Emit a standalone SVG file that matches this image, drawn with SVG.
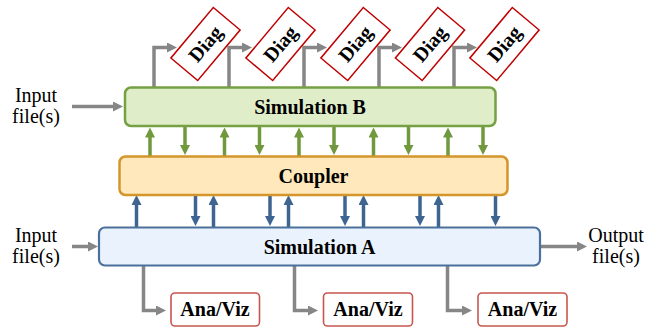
<svg xmlns="http://www.w3.org/2000/svg" width="667" height="328" viewBox="0 0 667 328">
<defs>
<marker id="ag" viewBox="0 0 10 10" refX="2" refY="5" markerWidth="10" markerHeight="10" markerUnits="userSpaceOnUse" orient="auto"><path d="M0,0 L10,5 L0,10 z" fill="#868686"/></marker>
<marker id="agr" viewBox="0 0 10 10" refX="2" refY="5" markerWidth="10" markerHeight="10" markerUnits="userSpaceOnUse" orient="auto"><path d="M0,0 L10,5 L0,10 z" fill="#70983c"/></marker>
<marker id="ab" viewBox="0 0 10 10" refX="2" refY="5" markerWidth="10" markerHeight="10" markerUnits="userSpaceOnUse" orient="auto"><path d="M0,0 L10,5 L0,10 z" fill="#3e6592"/></marker>
</defs>
<style>
text{font-family:'Liberation Serif','Times New Roman',serif;fill:#000;text-anchor:middle}
.lbl{font-size:20px}
.b{font-size:20px;font-weight:bold}
.g{fill:none;stroke:#868686;stroke-width:3.5;marker-end:url(#ag)}
.gr{fill:none;stroke:#70983c;stroke-width:3.5;marker-end:url(#agr)}
.bl{fill:none;stroke:#3e6592;stroke-width:3.5;marker-end:url(#ab)}
.diag{fill:#fff;stroke:#c00000;stroke-width:1.5}
.av{fill:#fff;stroke:#c8554f;stroke-width:1.6}
</style>
<g id="connectors">
<path class="g" d="M72,106.5 H115"/>
<path class="g" d="M72,246.5 H90"/>
<path class="g" d="M541,246.5 H579"/>
<path class="g" d="M154,87 V47.5 H169"/>
<path class="g" d="M229,87 V47.5 H244"/>
<path class="g" d="M304,87 V47.5 H319"/>
<path class="g" d="M379,87 V47.5 H394"/>
<path class="g" d="M454,87 V47.5 H469"/>
<path class="g" d="M143.5,266 V310.5 H158"/>
<path class="g" d="M294.5,266 V310.5 H310"/>
<path class="g" d="M447.5,266 V310.5 H464"/>
<path class="gr" d="M150,156 V135.5"/>
<path class="gr" d="M224.5,156 V135.5"/>
<path class="gr" d="M299,156 V135.5"/>
<path class="gr" d="M373.5,156 V135.5"/>
<path class="gr" d="M448,156 V135.5"/>
<path class="gr" d="M185,127 V147"/>
<path class="gr" d="M259.5,127 V147"/>
<path class="gr" d="M334,127 V147"/>
<path class="gr" d="M408.5,127 V147"/>
<path class="gr" d="M483,127 V147"/>
<path class="bl" d="M136.5,227 V203"/>
<path class="bl" d="M213.5,227 V203"/>
<path class="bl" d="M288.5,227 V203"/>
<path class="bl" d="M363.5,227 V203"/>
<path class="bl" d="M438.5,227 V203"/>
<path class="bl" d="M195.5,196 V218"/>
<path class="bl" d="M270,196 V218"/>
<path class="bl" d="M345,196 V218"/>
<path class="bl" d="M420,196 V218"/>
<path class="bl" d="M495.5,196 V218"/>
</g>
<g id="simB">
<rect x="125" y="87.5" width="370.5" height="38.5" rx="6" fill="#dfeec8" stroke="#76a044" stroke-width="2.5"/>
<text class="b" x="310" y="113.5">Simulation B</text>
</g>
<g id="coupler">
<rect x="119.5" y="156.5" width="388" height="38.5" rx="6" fill="#ffe8bb" stroke="#d4952a" stroke-width="2.5"/>
<text class="b" x="313.5" y="182.5">Coupler</text>
</g>
<g id="simA">
<rect x="99" y="227.5" width="441" height="38" rx="6" fill="#eaf3fd" stroke="#4a709b" stroke-width="2.2"/>
<text class="b" x="319.5" y="253.5">Simulation A</text>
</g>
<g id="inputB"><text class="lbl" x="36" y="102">Input</text><text class="lbl" x="36" y="123">file(s)</text></g>
<g id="inputA"><text class="lbl" x="36" y="242">Input</text><text class="lbl" x="36" y="263">file(s)</text></g>
<g id="output"><text class="lbl" x="616" y="242">Output</text><text class="lbl" x="616" y="263">file(s)</text></g>
<g id="diag1" transform="rotate(-50 205.5 44)"><rect class="diag" x="172.5" y="26.5" width="66" height="35"/><text class="b" x="205.5" y="50.5">Diag</text></g>
<g id="diag2" transform="rotate(-50 280.5 44)"><rect class="diag" x="247.5" y="26.5" width="66" height="35"/><text class="b" x="280.5" y="50.5">Diag</text></g>
<g id="diag3" transform="rotate(-50 355.5 44)"><rect class="diag" x="322.5" y="26.5" width="66" height="35"/><text class="b" x="355.5" y="50.5">Diag</text></g>
<g id="diag4" transform="rotate(-50 430 44)"><rect class="diag" x="397" y="26.5" width="66" height="35"/><text class="b" x="430" y="50.5">Diag</text></g>
<g id="diag5" transform="rotate(-50 504.5 44)"><rect class="diag" x="471.5" y="26.5" width="66" height="35"/><text class="b" x="504.5" y="50.5">Diag</text></g>
<g id="anaviz1"><rect class="av" x="171" y="293" width="88.5" height="33" rx="4"/><text class="b" x="215" y="316">Ana/Viz</text></g>
<g id="anaviz2"><rect class="av" x="323.5" y="293" width="89" height="33" rx="4"/><text class="b" x="368" y="316">Ana/Viz</text></g>
<g id="anaviz3"><rect class="av" x="478" y="293" width="89" height="33" rx="4"/><text class="b" x="522.5" y="316">Ana/Viz</text></g>
</svg>
